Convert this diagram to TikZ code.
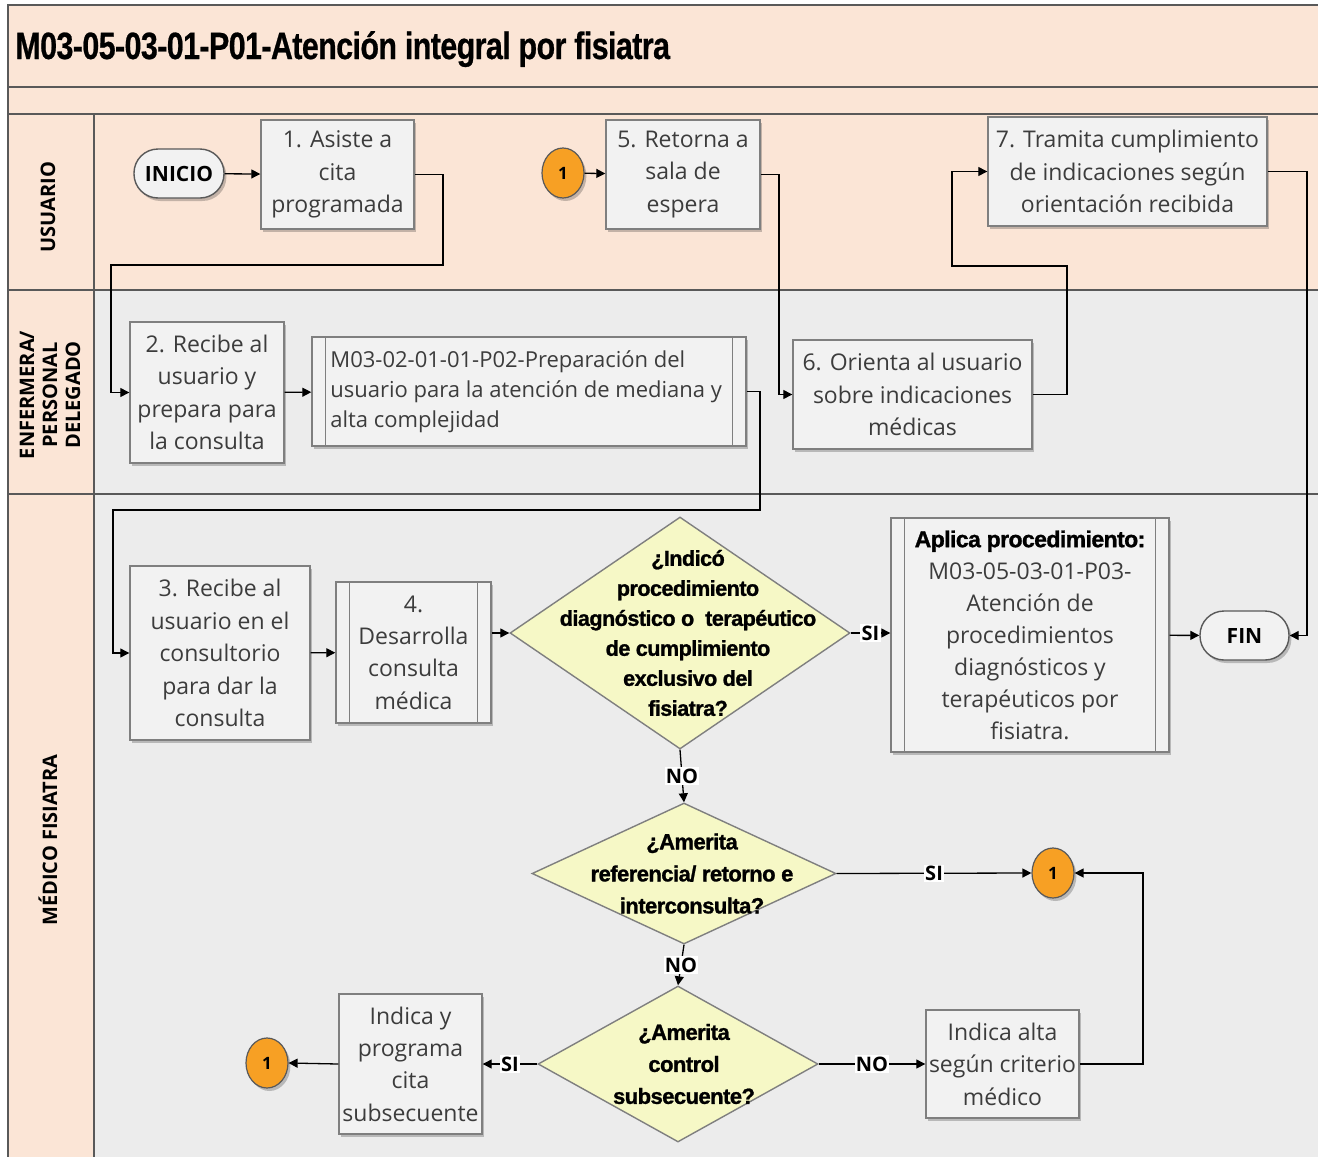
\documentclass[tikz,border=0pt]{standalone}
\usepackage{fontspec}
\setmainfont{Open Sans}
\newfontfamily\titlef[FakeStretch=0.8,FakeBold=0.6,LetterSpace=-1.5]{Liberation Sans}
\newfontfamily\diaf[FakeStretch=1.0,FakeBold=1.2,LetterSpace=-2.5]{Liberation Sans}
\usetikzlibrary{shapes.geometric,shadows,arrows.meta,calc}
\definecolor{peach}{HTML}{FBE5D6}
\definecolor{lanec}{HTML}{ECECEC}
\definecolor{boxc}{HTML}{F2F2F2}
\definecolor{bordc}{HTML}{7F7F7F}
\definecolor{framec}{HTML}{595959}
\definecolor{txtc}{HTML}{3C3C3C}
\definecolor{diac}{HTML}{F6F8C6}
\definecolor{orc}{HTML}{F7A024}
\tikzset{
  sz/.style 2 args={minimum width=#1*0.5pt, minimum height=#2*0.5pt},
  shad/.style={drop shadow={shadow xshift=1.2pt, shadow yshift=-1.5pt, opacity=0.22, fill=black}},
  box/.style={draw=bordc, line width=0.7pt, fill=boxc, text=txtc, align=center, inner sep=0pt, shad,
    font=\fontsize{11.5}{16.2}\selectfont},
  term/.style={draw=framec, line width=0.7pt, fill=boxc, rounded corners=12pt, inner sep=0pt, shad,
    font=\fontsize{10.5}{12}\selectfont\bfseries},
  conn/.style={ellipse, draw=framec, line width=0.6pt, fill=orc, inner sep=0pt, shad,
    minimum width=21pt, minimum height=25pt, font=\fontsize{8.5}{10}\selectfont\bfseries},
  dia/.style={diamond, draw=bordc, line width=0.7pt, fill=diac, inner sep=0pt, aspect=1.5},
  diat/.style={align=center, font=\diaf\bfseries\fontsize{10.8}{15}\selectfont, inner sep=0pt},
  lane/.style={rotate=90, align=center, font=\fontsize{10}{11.5}\selectfont\bfseries},
  arr/.style={draw=black, line width=0.65pt, -{Triangle[length=4.5pt,width=4.5pt]}},
  lbl/.style={fill=white, inner sep=0.6pt, font=\fontsize{10}{11}\selectfont\bfseries},
  frame/.style={draw=framec, line width=0.6pt}
}
\begin{document}
\begin{tikzpicture}[x=0.5pt,y=-0.5pt]
\useasboundingbox (0,0) rectangle (1318,1157);
% background bands
\fill[peach] (8,5) rectangle (1318,290);
\fill[peach] (8,290) rectangle (94,1157);
\fill[lanec] (94,290) rectangle (1318,1157);
\draw[frame] (1318,5) -- (8,5) -- (8,1157);
\draw[frame] (8,87) -- (1318,87);
\draw[frame] (8,114) -- (1318,114);
\draw[frame] (8,290) -- (1318,290);
\draw[frame] (8,494) -- (1318,494);
\draw[frame] (94,114) -- (94,1157);
% title
\node[anchor=base west, inner sep=0pt, font=\titlef\bfseries\fontsize{19}{22}\selectfont] (title) at (15,59) {M03-05-03-01-P01-Atención integral por fisiatra};
% lane labels
\node[lane] (l1) at (48,207) {USUARIO};
\node[lane] (l2) at (50,395) {ENFERMERA/\\PERSONAL\\DELEGADO};
\node[lane] (l3) at (48,840) {MÉDICO FISIATRA};
% nodes
\node[term, sz={90}{49}] (inicio) at (179,173.5) {INICIO};
\node[box, sz={153}{109}] (b1) at (337.5,174.5) {1. Asiste a\\cita\\programada};
\node[conn] (c1a) at (563,173) {1};
\node[box, sz={154}{109}] (b5) at (683,174.5) {5. Retorna a\\sala de\\espera};
\node[box, sz={279}{109}] (b7) at (1127.5,171.5) {7. Tramita cumplimiento\\de indicaciones según\\orientación recibida};
\node[box, sz={154}{141}] (b2) at (207,392.5) {2. Recibe al\\usuario y\\prepara para\\la consulta};
\node[box, sz={434}{109}] (p02) at (529,391.5) {};
\node[anchor=west, align=left, inner sep=0pt, text=txtc, font=\fontsize{11}{15}\selectfont] (p02t) at (330,391.5) {M03-02-01-01-P02-Preparación del\\usuario para la atención de mediana y\\alta complejidad};
\node[box, sz={239}{109}] (b6) at (912.5,394.5) {6. Orienta al usuario\\sobre indicaciones\\médicas};
\node[box, sz={180}{174}] (b3) at (220,653) {3. Recibe al\\usuario en el\\consultorio\\para dar la\\consulta};
\node[box, sz={155}{141}] (b4) at (413.5,652.5) {4.\\Desarrolla\\consulta\\médica};
\node[dia, sz={340}{232}] (d1) at (680,633) {};
\node[diat] (d1t) at (688,633) {¿Indicó\\procedimiento\\diagnóstico o \ terapéutico\\de cumplimiento\\exclusivo del\\fisiatra?};
\node[box, sz={278}{234}] (ap) at (1030,635) {};
\node[align=center, inner sep=0pt, text=txtc, font=\fontsize{11.5}{16}\selectfont] (apt) at (1030,635) {{\diaf\bfseries\color{black}Aplica procedimiento:}\\M03-05-03-01-P03-\\Atención de\\procedimientos\\diagnósticos y\\terapéuticos por\\fisiatra.};
\node[term, sz={89}{49}] (fin) at (1244.5,635.5) {FIN};
\node[dia, sz={304}{141}] (d2) at (684,873.5) {};
\node[diat, font=\diaf\bfseries\fontsize{11}{16}\selectfont] (d2t) at (692,873.5) {¿Amerita\\referencia/ retorno e\\interconsulta?};
\node[conn] (c1b) at (1053,873) {1};
\node[dia, sz={280}{156}] (d3) at (678,1064) {};
\node[diat, font=\diaf\bfseries\fontsize{11}{16}\selectfont] (d3t) at (684,1064) {¿Amerita\\control\\subsecuente?};
\node[box, sz={153}{108}] (alta) at (1002.5,1064) {Indica alta\\según criterio\\médico};
\node[box, sz={143}{140}] (prog) at (410.5,1064) {Indica y\\programa\\cita\\subsecuente};
\node[conn] (c1c) at (267,1063) {1};
% subprocess inner lines
\foreach \n in {p02,b4,ap}{
  \draw[bordc, line width=0.7pt] ([xshift=7pt]\n.north west) -- ([xshift=7pt]\n.south west);
  \draw[bordc, line width=0.7pt] ([xshift=-7pt]\n.north east) -- ([xshift=-7pt]\n.south east);
}
% connectors
\draw[arr] (inicio) -- (b1);
\draw[arr] (b1.east) -- (443,174.5) -- (443,265) -- (111,265) |- (b2.west);
\draw[arr] (b2) -- (p02);
\draw[arr] (p02.east) -- (760,391.5) -- (760,510) -- (113,510) |- (b3.west);
\draw[arr] (b3) -- (b4);
\draw[arr] (b4.east |- d1.west) -- (d1.west);
\draw[arr] (c1a) -- (b5);
\draw[arr] (b5.east) -- (779,174.5) |- (b6.west);
\draw[arr] (b6.east) -- (1067,394.5) -- (1067,266) -- (952,266) |- (b7.west);
\draw[arr] (b7.east) -- (1307,171.5) |- (fin.east);
\draw[arr] (d1.east) -- node[lbl] {SI} (ap.west |- d1.east);
\draw[arr] (ap) -- (fin);
\draw[arr] (d1.south) -- node[lbl] {NO} (d2.north);
\draw[arr] (d2.east) -- node[lbl] {SI} (c1b.west);
\draw[arr] (d2.south) -- node[lbl] {NO} (d3.north);
\draw[arr] (d3.east) -- node[lbl] {NO} (alta.west);
\draw[arr] (alta.east) -- (1143,1064) |- (c1b.east);
\draw[arr] (d3.west) -- node[lbl] {SI} (prog.east);
\draw[arr] (prog.west) -- (c1c.east);
\end{tikzpicture}
\end{document}
